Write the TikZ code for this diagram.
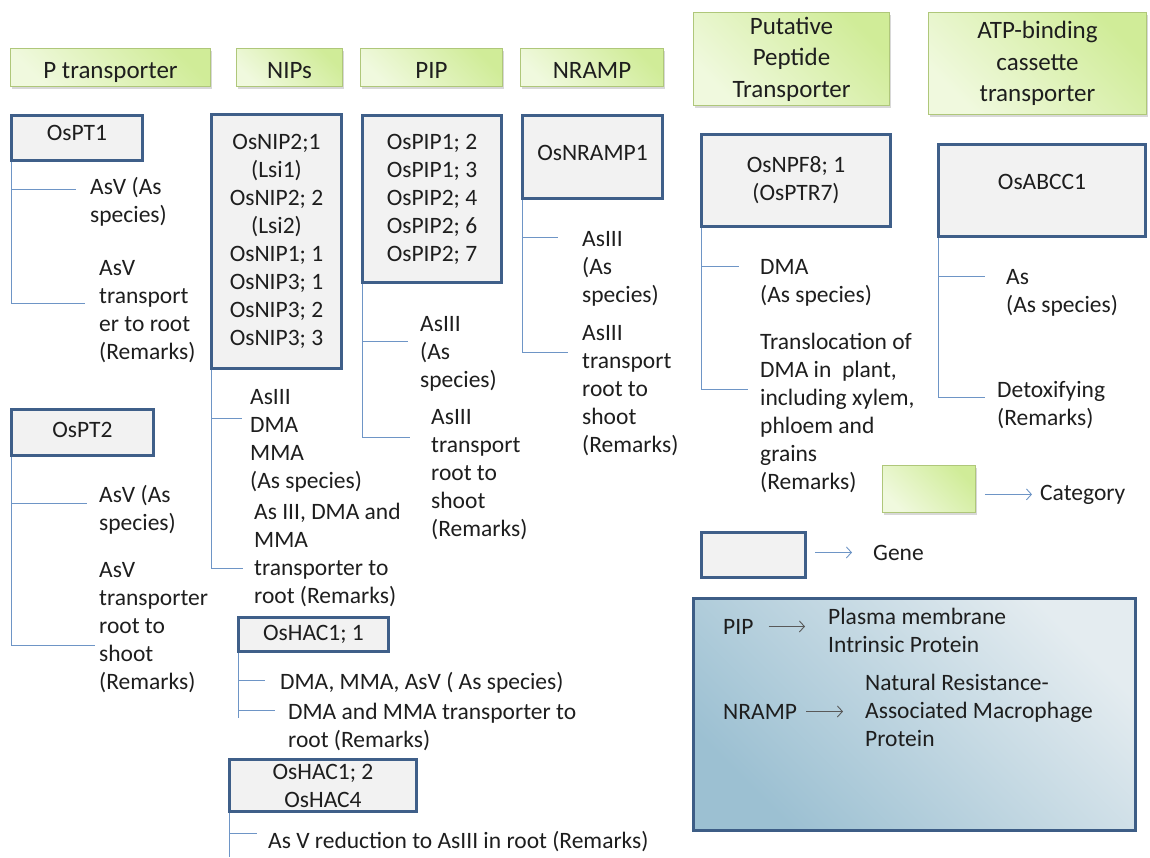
\documentclass[tikz,border=0pt]{standalone}
\usepackage{fontspec}
\setmainfont{Carlito}
\usetikzlibrary{arrows.meta,shadows}
\definecolor{cattop}{HTML}{F0F9DE}
\definecolor{catbot}{HTML}{D0EC98}
\definecolor{catline}{HTML}{AFC77A}
\definecolor{genefill}{HTML}{F2F2F2}
\definecolor{geneline}{HTML}{3F5F89}
\definecolor{branchcol}{HTML}{6E95C6}
\definecolor{inktext}{HTML}{1E1E1E}
\definecolor{keytop}{HTML}{9CC0D2}
\definecolor{keybot}{HTML}{E4ECF0}
\definecolor{keyline}{HTML}{3D5D86}

\begin{document}
\begin{tikzpicture}[x=1pt, y=-1pt,
    every node/.style={text=inktext, font=\fontsize{23.5}{28}\selectfont},
    catbox/.style={draw=catline, line width=0.8pt, top color=cattop, bottom color=catbot, shading angle=135,
      drop shadow={shadow xshift=1.5pt, shadow yshift=-2pt, opacity=0.3},
      inner sep=0pt, align=center, font=\fontsize{25}{31.5}\selectfont},
    catone/.style={catbox, minimum height=38, text height=26pt, text depth=5pt},
    genebox/.style={draw=geneline, line width=3.2pt, fill=genefill, inner sep=0pt, align=center},
    note/.style={anchor=base west, inner sep=0pt, align=left},
    branch/.style={draw=branchcol, line width=0.9pt},
    keyarrow/.style={draw=branchcol, line width=0.9pt, -{Straight Barb[length=5pt, width=11pt]}},
    greyarrow/.style={draw=black!65, line width=0.9pt, -{Straight Barb[length=5pt, width=11pt]}}
  ]
    \useasboundingbox (0,0) rectangle (1150,857);
    \fill[white] (0,0) rectangle (1150,857);

    % transporter families
    \node[catone, minimum width=200] (ptcat) at (110.5,67.5) {P transporter};
    \node[catone, minimum width=106] (nipcat) at (289.5,67.5) {NIPs};
    \node[catone, minimum width=142] (pipcat) at (431.5,67.5) {PIP};
    \node[catone, minimum width=143] (nrampcat) at (592,67.5) {NRAMP};
    \node[catbox, minimum width=196, minimum height=93] (pepcat) at (791.5,59) {Putative\\Peptide\\Transporter};
    \node[catbox, minimum width=218, minimum height=102] (abccat) at (1037.5,63.5) {ATP-binding\\cassette\\transporter};

    % genes
    \node[genebox, minimum width=131, minimum height=45, text depth=10pt] (ospt1) at (77,138) {OsPT1};
    \node[genebox, minimum width=142, minimum height=46, text depth=5pt] (ospt2) at (82.5,432.5) {OsPT2};
    \node[genebox, minimum width=130, minimum height=254] (osnip) at (276.5,241.5)
      {OsNIP2;1\\(Lsi1)\\OsNIP2; 2\\(Lsi2)\\OsNIP1; 1\\OsNIP3; 1\\OsNIP3; 2\\OsNIP3; 3};
    \node[genebox, minimum width=139, minimum height=167] (ospip) at (432,199)
      {OsPIP1; 2\\OsPIP1; 3\\OsPIP2; 4\\OsPIP2; 6\\OsPIP2; 7};
    \node[genebox, minimum width=140, minimum height=83, text depth=8pt] (osnramp) at (592.5,157) {OsNRAMP1};
    \node[genebox, minimum width=189, minimum height=92] (osnpf) at (796,180.5) {OsNPF8; 1\\(OsPTR7)};
    \node[genebox, minimum width=207, minimum height=92, text depth=17pt] (osabcc) at (1042,190.5) {OsABCC1};
    \node[genebox, minimum width=150, minimum height=34] (oshac1) at (313.5,634.5) {OsHAC1; 1};
    \node[genebox, minimum width=187, minimum height=52] (oshac2) at (323,785.5) {OsHAC1; 2\\OsHAC4};

    % species and remarks (placed by the baseline of the last line)
    \node[note] (pt1sp) at (90,222) {AsV (As\\species)};
    \node[note] (pt1rm) at (99,359) {AsV\\transport\\er to root\\(Remarks)};
    \node[note] (pt2sp) at (99,530) {AsV (As\\species)};
    \node[note] (pt2rm) at (99,689) {AsV\\transporter\\root to\\shoot\\(Remarks)};
    \node[note] (nipsp) at (250,488) {AsIII\\DMA\\MMA\\(As species)};
    \node[note] (niprm) at (254,603) {As III, DMA and\\MMA\\transporter to\\root (Remarks)};
    \node[note] (hac1sp) at (280,689) {DMA, MMA, AsV ( As species)};
    \node[note] (hac1rm) at (288,747) {DMA and MMA transporter to\\root (Remarks)};
    \node[note] (hac2rm) at (268,848) {As V reduction to AsIII in root (Remarks)};
    \node[note] (pipsp) at (420,387) {AsIII\\(As\\species)};
    \node[note] (piprm) at (431,536) {AsIII\\transport\\root to\\shoot\\(Remarks)};
    \node[note] (nrampsp) at (582,302) {AsIII\\(As\\species)};
    \node[note] (nramprm) at (582,452) {AsIII\\transport\\root to\\shoot\\(Remarks)};
    \node[note] (npfsp) at (760,302) {DMA\\(As species)};
    \node[note] (npfrm) at (760,489) {Translocation of\\DMA in\ \ plant,\\including xylem,\\phloem and\\grains\\(Remarks)};
    \node[note] (abccsp) at (1006,312) {As\\(As species)};
    \node[note] (abccrm) at (997,425) {Detoxifying\\(Remarks)};

    % branch ends
    \coordinate (pt1a) at (76,189);
    \coordinate (pt1b) at (85,303);
    \coordinate (pt2a) at (87,503);
    \coordinate (pt2b) at (95,645);
    \coordinate (nipa) at (242,418);
    \coordinate (nipb) at (243,568);
    \coordinate (hac1a) at (265,680);
    \coordinate (hac1b) at (275,710);
    \coordinate (hac1c) at (0,718);
    \coordinate (hac2a) at (257,833);
    \coordinate (hac2b) at (0,857);
    \coordinate (pipa) at (408,341);
    \coordinate (pipb) at (410,437);
    \coordinate (nrampa) at (558,237);
    \coordinate (nrampb) at (568,352);
    \coordinate (npfa) at (739,266);
    \coordinate (npfb) at (748,389);
    \coordinate (abcca) at (985,276);
    \coordinate (abccb) at (985,397);

    \draw[branch] ([xshift=2pt]ospt1.south west) |- (pt1a);
    \draw[branch] ([xshift=2pt]ospt1.south west) |- (pt1b);
    \draw[branch] ([xshift=2pt]ospt2.south west) |- (pt2a);
    \draw[branch] ([xshift=2pt]ospt2.south west) |- (pt2b);
    \draw[branch] ([xshift=2pt]osnip.south west) |- (nipa);
    \draw[branch] ([xshift=2pt]osnip.south west) |- (nipb);
    \draw[branch] ([xshift=2pt]oshac1.south west) |- (hac1a);
    \draw[branch] ([xshift=2pt]oshac1.south west) |- (hac1b);
    \draw[branch] ([xshift=2pt]oshac1.south west) -- ([xshift=2pt]oshac1.south west |- hac1c);
    \draw[branch] ([xshift=2pt]oshac2.south west) |- (hac2a);
    \draw[branch] ([xshift=2pt]oshac2.south west) -- ([xshift=2pt]oshac2.south west |- hac2b);
    \draw[branch] ([xshift=2pt]ospip.south west) |- (pipa);
    \draw[branch] ([xshift=2pt]ospip.south west) |- (pipb);
    \draw[branch] ([xshift=2pt]osnramp.south west) |- (nrampa);
    \draw[branch] ([xshift=2pt]osnramp.south west) |- (nrampb);
    \draw[branch] ([xshift=2pt]osnpf.south west) |- (npfa);
    \draw[branch] ([xshift=2pt]osnpf.south west) |- (npfb);
    \draw[branch] ([xshift=2pt]osabcc.south west) |- (abcca);
    \draw[branch] ([xshift=2pt]osabcc.south west) |- (abccb);

    % key
    \node[catbox, minimum width=93, minimum height=47] (keycat) at (929,489) {};
    \node[note] (keycattxt) at (1040,500) {Category};
    \draw[keyarrow] ([xshift=9pt]keycat.east |- keycattxt.west) -- ([xshift=-8pt]keycattxt.west);
    \node[genebox, minimum width=104, minimum height=45] (keygene) at (753.5,555) {};
    \node[note] (keygenetxt) at (873,560) {Gene};
    \draw[keyarrow] ([xshift=8pt]keygene.east |- keygenetxt.west) -- ([xshift=-21pt]keygenetxt.west);

    \node[draw=keyline, line width=3pt, top color=keytop, bottom color=keybot, shading angle=135,
      minimum width=442, minimum height=232, inner sep=0pt] (keypanel) at (914.5,714.5) {};
    \node[note] (pipabbr) at (723,634) {PIP};
    \node[note] (pipfull) at (828,652) {Plasma membrane\\Intrinsic Protein};
    \node[note] (nrampabbr) at (723,719) {NRAMP};
    \node[note] (nrampfull) at (865,746) {Natural Resistance-\\Associated Macrophage\\Protein};
    \draw[greyarrow] ([xshift=15pt]pipabbr.east) -- ([xshift=-23pt]pipabbr.east -| pipfull.west);
    \draw[greyarrow] ([xshift=9pt]nrampabbr.east) -- ([xshift=-22pt]nrampabbr.east -| nrampfull.west);
\end{tikzpicture}
\end{document}
